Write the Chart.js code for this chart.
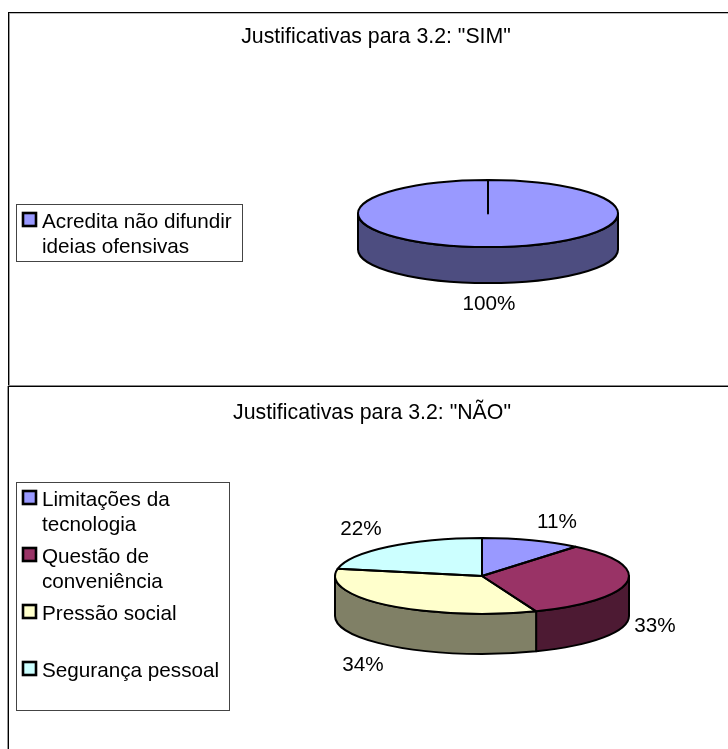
<!DOCTYPE html>
<html lang="pt">
<head>
<meta charset="utf-8">
<title>Justificativas para 3.2</title>
<script src="https://cdn.jsdelivr.net/npm/chart.js@4"></script>
<style>
html,body{margin:0;padding:0;background:#fff;width:728px;height:749px;overflow:hidden}
canvas{position:absolute;left:0}
#c1{top:0}
#c2{top:386px}
.l{position:absolute}
</style>
</head>
<body>
<canvas id="c1" width="728" height="386"></canvas>
<canvas id="c2" width="728" height="363"></canvas>
<script>
// ---- data ----
const titleSim = 'Justificativas para 3.2: "SIM"';
const categoriesSim = ['Acredita não difundir ideias ofensivas'];
const legendLinesSim = [['Acredita não difundir', 'ideias ofensivas']];
const valuesSim = [100];
const coloursSim = ['#9999FF'];
const sidesSim = ['#4D4D80'];

const titleNao = 'Justificativas para 3.2: "NÃO"';
const categoriesNao = ['Limitações da tecnologia', 'Questão de conveniência', 'Pressão social', 'Segurança pessoal'];
const legendLinesNao = [['Limitações da', 'tecnologia'], ['Questão de', 'conveniência'], ['Pressão social'], ['Segurança pessoal']];
const valuesNao = [11, 33, 34, 22];
const coloursNao = ['#9999FF', '#993366', '#FFFFCC', '#CCFFFF'];
const sidesNao = ['#4D4D80', '#4D1A33', '#808066', '#668080'];

// ---- drawing ----
const FONT = '"Liberation Sans", Arial, sans-serif';
const SIZE = 20.7;
const TITLE_SIZE = 21.3;
const TAU = Math.PI * 2;
Chart.defaults.font.family = FONT;

const pie3d = {
  id: 'pie3d',
  afterLayout(chart, args, o) {
    // centre the title over the panel, not over the padded plot area
    const t = chart.titleBlock;
    t.left = o.titleX - 200; t.right = o.titleX + 200;
  },
  beforeDatasetsDraw(chart, args, o) {
    const ctx = chart.ctx, arcs = chart.getDatasetMeta(0).data;
    const { x: cx, y: cy, outerRadius: rx } = arcs[0];
    const ry = rx * o.tilt;
    ctx.save();
    ctx.lineWidth = o.line; ctx.strokeStyle = '#000'; ctx.lineJoin = 'round';
    arcs.forEach((a, i) => {
      for (const k of [-1, 0, 1]) {
        const s = Math.max(a.startAngle + k * TAU, 0), e = Math.min(a.endAngle + k * TAU, Math.PI);
        if (e <= s) continue;
        ctx.beginPath();
        ctx.ellipse(cx, cy, rx, ry, 0, s, e);
        ctx.ellipse(cx, cy + o.depth, rx, ry, 0, e, s, true);
        ctx.closePath();
        ctx.fillStyle = o.sides[i];
        ctx.fill(); ctx.stroke();
      }
    });
    ctx.restore();
  },
  beforeDatasetDraw(chart, args, o) {
    const ctx = chart.ctx, a = chart.getDatasetMeta(0).data[0];
    ctx.save();
    ctx.translate(a.x, a.y); ctx.scale(1, o.tilt); ctx.translate(-a.x, -a.y);
  },
  afterDatasetDraw(chart, args, o) {
    const ctx = chart.ctx, arcs = chart.getDatasetMeta(0).data;
    ctx.restore();
    const { x: cx, y: cy, outerRadius: rx } = arcs[0];
    const ry = rx * o.tilt;
    ctx.save();
    ctx.lineWidth = o.line; ctx.strokeStyle = '#000'; ctx.lineJoin = 'round';
    arcs.forEach(a => {
      ctx.beginPath();
      ctx.moveTo(cx, cy);
      ctx.ellipse(cx, cy, rx, ry, 0, a.startAngle, a.endAngle);
      ctx.closePath();
      ctx.stroke();
    });
    ctx.restore();
  },
  afterDraw(chart, args, o) {
    const ctx = chart.ctx, values = chart.data.datasets[0].data, cols = chart.data.datasets[0].backgroundColor;
    ctx.save();
    ctx.fillStyle = '#000';
    ctx.font = SIZE + 'px ' + FONT;
    ctx.textBaseline = 'alphabetic';
    // percentage labels
    ctx.textAlign = 'center';
    values.forEach((v, i) => ctx.fillText(v + '%', o.labelAt[i][0], o.labelAt[i][1]));
    // legend
    const b = o.legendBox;
    ctx.lineWidth = 1; ctx.strokeStyle = '#444';
    ctx.strokeRect(b[0] + .5, b[1] + .5, b[2] - b[0], b[3] - b[1]);
    ctx.textAlign = 'left';
    o.legendLines.forEach((lines, i) => {
      const base = o.legendBase[i];
      ctx.fillStyle = cols[i];
      ctx.strokeStyle = '#000'; ctx.lineWidth = 2.6;
      ctx.fillRect(23, base - 15, 13, 13);
      ctx.strokeRect(23, base - 15, 13, 13);
      ctx.fillStyle = '#000';
      lines.forEach((t, j) => ctx.fillText(t, 42, base + j * 25));
    });
    ctx.restore();
  }
};

function makePie(id, title, titleX, cats, vals, cols, padding, titlePad, p3d) {
  new Chart(document.getElementById(id), {
    type: 'pie',
    plugins: [pie3d],
    data: { labels: cats, datasets: [{ data: vals, backgroundColor: cols, borderWidth: 0, hoverOffset: 0 }] },
    options: {
      responsive: false, animation: false, rotation: 0,
      layout: { padding },
      plugins: {
        legend: { display: false },
        tooltip: { enabled: false },
        title: { display: true, text: title, color: '#000', padding: titlePad,
                 font: { family: FONT, size: TITLE_SIZE, weight: 'normal', lineHeight: 1.2 } },
        pie3d: Object.assign({ titleX }, p3d)
      }
    }
  });
}

makePie('c1', titleSim, 376, categoriesSim, valuesSim, coloursSim,
  { left: 358, right: 110, top: 0, bottom: 42.5 },
  { top: 24.2, bottom: 33.7 },
  { tilt: 0.258, depth: 36, line: 2, sides: sidesSim, labelAt: [[489, 310]],
    legendBox: [16, 204, 242, 261], legendLines: legendLinesSim, legendBase: [228] });

makePie('c2', titleNao, 372, categoriesNao, valuesNao, coloursNao,
  { left: 335, right: 99, top: 0, bottom: 26 },
  { top: 14.2, bottom: 3.2 },
  { tilt: 0.2585, depth: 40, line: 2, sides: sidesNao,
    labelAt: [[557, 142], [655, 246], [363, 285], [361, 149]],
    legendBox: [16, 96, 229, 324], legendLines: legendLinesNao, legendBase: [120, 177, 234, 291] });

// panel frame
[[8, 12, 720, 1, '#000'], [8, 13, 720, 1, '#bbb'], [8, 12, 1, 374, '#000'], [9, 13, 1, 372, '#999'],
 [8, 385, 720, 1, '#888'], [8, 386, 720, 1, '#000'], [8, 386, 1, 363, '#000'], [7, 386, 1, 363, '#999']]
 .forEach(f => {
   const d = document.createElement('div');
   d.className = 'l';
   d.style.cssText = `left:${f[0]}px;top:${f[1]}px;width:${f[2]}px;height:${f[3]}px;background:${f[4]}`;
   document.body.appendChild(d);
 });
</script>
</body>
</html>
